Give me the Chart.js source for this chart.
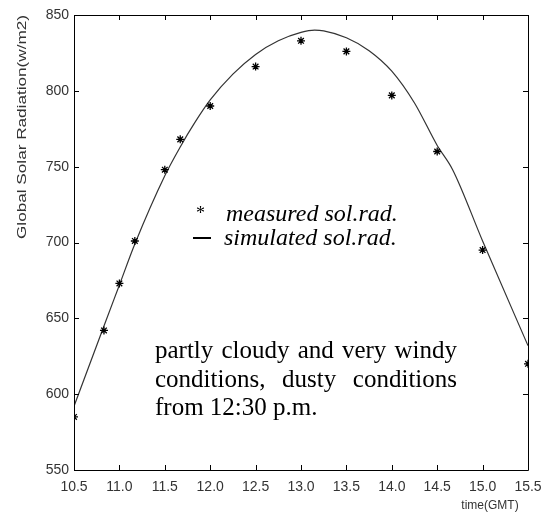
<!DOCTYPE html>
<html>
<head>
<meta charset="utf-8">
<script src="https://cdn.jsdelivr.net/npm/chart.js@4"></script>
<style>
  html, body { margin: 0; padding: 0; background: #fff; }
  #wrap { width: 547px; height: 519px; }
</style>
</head>
<body>
<div id="wrap"><canvas id="chartCanvas" width="547" height="519"></canvas></div>
<script>
// measured values (stars)
const timeMeasured = [10.5, 10.83, 11.0, 11.17, 11.5, 11.67, 12.0, 12.5, 13.0, 13.5, 14.0, 14.5, 15.0, 15.5];
const radMeasured = [585, 642, 673, 701, 748, 768, 790, 816, 833, 826, 797, 760, 695, 620];

// simulated curve
const timeSimulated = [10.5, 10.83, 11.0, 11.17, 11.5, 11.67, 11.83, 12.0, 12.25, 12.5, 12.75, 13.0, 13.15, 13.25, 13.5, 13.75, 14.0, 14.25, 14.5, 14.67, 15.0, 15.5];
const radSimulated = [592, 645, 672, 699, 744, 763, 779, 794, 811, 824, 833, 838.5, 840, 839.5, 835, 826.5, 813, 792, 764, 748, 701, 632];

const xTicks = [10.5, 11.0, 11.5, 12.0, 12.5, 13.0, 13.5, 14.0, 14.5, 15.0, 15.5];
const yTicks = [550, 600, 650, 700, 750, 800, 850];

const yTitle = "Global Solar Radiation(w/m2)";
const xTitle = "time(GMT)";
const legendLabels = ["measured sol.rad.", "simulated sol.rad."];
const noteLines = [["partly", "cloudy", "and", "very", "windy"], ["conditions,", "dusty", "conditions"], ["from", "12:30", "p.m."]];

const sans = "'Liberation Sans', Arial, sans-serif";
const serif = "'Liberation Serif', 'Times New Roman', serif";

// box + inward ticks + texts drawn over the chart
const decorations = {
  id: "decorations",
  afterDraw(chart) {
    const ctx = chart.ctx;
    const a = chart.chartArea;
    const xs = chart.scales.x, ys = chart.scales.y;
    ctx.save();
    ctx.strokeStyle = "#000";
    ctx.lineWidth = 1;
    ctx.beginPath();
    ctx.rect(Math.round(a.left) + 0.5, Math.round(a.top) + 0.5, Math.round(a.right - a.left), Math.round(a.bottom - a.top));
    ctx.stroke();
    const tl = 5;
    ctx.beginPath();
    xTicks.forEach(v => {
      const px = Math.round(xs.getPixelForValue(v)) + 0.5;
      ctx.moveTo(px, a.bottom); ctx.lineTo(px, a.bottom - tl);
      ctx.moveTo(px, a.top); ctx.lineTo(px, a.top + tl);
    });
    yTicks.forEach(v => {
      const py = Math.round(ys.getPixelForValue(v)) + 0.5;
      ctx.moveTo(a.left, py); ctx.lineTo(a.left + tl, py);
      ctx.moveTo(a.right, py); ctx.lineTo(a.right - tl, py);
    });
    ctx.stroke();

    // axis titles
    ctx.fillStyle = "#333";
    ctx.font = "12px " + sans;
    ctx.textAlign = "center";
    ctx.textBaseline = "middle";
    ctx.fillText(xTitle, 490, 506);
    ctx.save();
    ctx.font = "13px " + sans;
    const tw = ctx.measureText(yTitle).width;
    ctx.translate(22, 127);
    ctx.rotate(-Math.PI / 2);
    ctx.scale(224 / tw, 1);
    ctx.fillText(yTitle, 0, 0);
    ctx.restore();

    // legend
    ctx.fillStyle = "#000";
    ctx.textAlign = "left";
    ctx.textBaseline = "alphabetic";
    ctx.font = "italic 24px " + serif;
    ctx.fillText(legendLabels[0], 226, 221);
    ctx.fillText(legendLabels[1], 224, 245);
    ctx.font = "18px " + serif;
    ctx.fillText("*", 196, 219);
    ctx.fillRect(193, 237, 18, 2);

    // note, justified like the original
    ctx.font = "25px " + serif;
    const left = 155, right = 457;
    const baselines = [358, 387, 415];
    noteLines.forEach((words, i) => {
      if (i === noteLines.length - 1) {
        ctx.fillText(words.join(" "), left, baselines[i]);
        return;
      }
      const total = words.reduce((s, w) => s + ctx.measureText(w).width, 0);
      const gap = (right - left - total) / (words.length - 1);
      let x = left;
      words.forEach(w => {
        ctx.fillText(w, x, baselines[i]);
        x += ctx.measureText(w).width + gap;
      });
    });
    ctx.restore();
  }
};

const ctx = document.getElementById("chartCanvas").getContext("2d");
new Chart(ctx, {
  type: "scatter",
  data: {
    datasets: [
      {
        label: "simulated sol.rad.",
        type: "line",
        data: timeSimulated.map((t, i) => ({ x: t, y: radSimulated[i] })),
        borderColor: "#333",
        borderWidth: 1.2,
        pointRadius: 0,
        fill: false,
        cubicInterpolationMode: "monotone",
        order: 2
      },
      {
        label: "measured sol.rad.",
        data: timeMeasured.map((t, i) => ({ x: t, y: radMeasured[i] })),
        pointStyle: "star",
        pointRadius: 4,
        borderColor: "#000",
        backgroundColor: "#000",
        borderWidth: 1.3,
        showLine: false,
        order: 1
      }
    ]
  },
  options: {
    responsive: false,
    animation: false,
    layout: { padding: { left: 0, top: 15, right: 19, bottom: 0 } },
    plugins: { legend: { display: false }, tooltip: { enabled: false } },
    scales: {
      x: {
        type: "linear",
        min: 10.5, max: 15.5,
        afterBuildTicks: s => { s.ticks = xTicks.map(v => ({ value: v })); },
        afterFit: s => { s.height = 49; s.paddingLeft = 0; s.paddingRight = 0; },
        grid: { display: false, drawTicks: false },
        border: { display: false },
        ticks: {
          padding: 9,
          color: "#333",
          font: { family: sans, size: 14 },
          maxRotation: 0,
          autoSkip: false,
          callback: v => Number(v).toFixed(1)
        }
      },
      y: {
        min: 550, max: 850,
        afterBuildTicks: s => { s.ticks = yTicks.map(v => ({ value: v })); },
        afterFit: s => { s.width = 74; s.paddingTop = 0; s.paddingBottom = 0; },
        grid: { display: false, drawTicks: false },
        border: { display: false },
        ticks: {
          padding: 5,
          color: "#333",
          font: { family: sans, size: 14 },
          autoSkip: false
        }
      }
    }
  },
  plugins: [decorations]
});
</script>
</body>
</html>
